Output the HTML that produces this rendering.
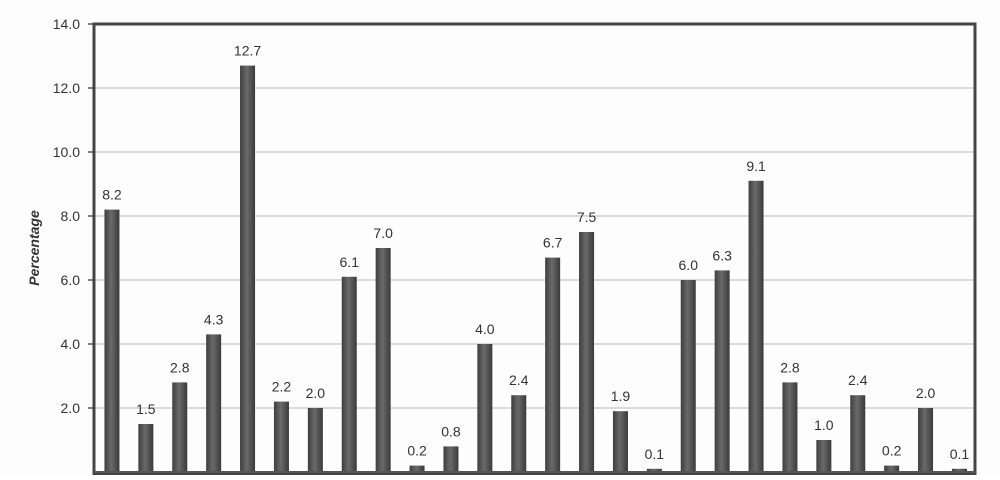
<!DOCTYPE html>
<html><head><style>
html,body{margin:0;padding:0;background:#fff;}
</style></head><body>
<svg width="1000" height="475" xmlns="http://www.w3.org/2000/svg" font-family="Liberation Sans, sans-serif">
<defs>
<linearGradient id="g" x1="0" x2="1" y1="0" y2="0">
<stop offset="0" stop-color="#3e3e3e"/><stop offset="0.45" stop-color="#6a6a6a"/><stop offset="1" stop-color="#3a3a3a"/>
</linearGradient>
</defs>
<rect width="1000" height="475" fill="#fdfdfd"/>
<g stroke="#d0d0d0" stroke-width="1.5">
<line x1="95" x2="975" y1="88" y2="88"/>
<line x1="95" x2="975" y1="152" y2="152"/>
<line x1="95" x2="975" y1="216" y2="216"/>
<line x1="95" x2="975" y1="280" y2="280"/>
<line x1="95" x2="975" y1="344" y2="344"/>
<line x1="95" x2="975" y1="408" y2="408"/>
</g>
<g font-size="14" fill="#333" text-anchor="end">
<text x="80" y="29">14.0</text><text x="80" y="93">12.0</text><text x="80" y="157">10.0</text>
<text x="80" y="221">8.0</text><text x="80" y="285">6.0</text><text x="80" y="349">4.0</text><text x="80" y="413">2.0</text>
</g>
<g stroke="#555" stroke-width="1.5">
<line x1="88" x2="94" y1="24" y2="24"/><line x1="88" x2="94" y1="88" y2="88"/><line x1="88" x2="94" y1="152" y2="152"/>
<line x1="88" x2="94" y1="216" y2="216"/><line x1="88" x2="94" y1="280" y2="280"/><line x1="88" x2="94" y1="344" y2="344"/><line x1="88" x2="94" y1="408" y2="408"/>
</g>
<text transform="translate(39,248) rotate(-90)" font-size="14" font-weight="bold" font-style="italic" fill="#333" text-anchor="middle">Percentage</text>
<g fill="url(#g)">
<rect x="104.45" y="209.6" width="15" height="262.4"/>
<rect x="138.35" y="424" width="15" height="48"/>
<rect x="172.25" y="382.4" width="15" height="89.6"/>
<rect x="206.15" y="334.4" width="15" height="137.6"/>
<rect x="240.05" y="65.6" width="15" height="406.4"/>
<rect x="273.95" y="401.6" width="15" height="70.4"/>
<rect x="307.85" y="408" width="15" height="64"/>
<rect x="341.75" y="276.8" width="15" height="195.2"/>
<rect x="375.65" y="248" width="15" height="224"/>
<rect x="409.55" y="465.6" width="15" height="6.4"/>
<rect x="443.45" y="446.4" width="15" height="25.6"/>
<rect x="477.35" y="344" width="15" height="128"/>
<rect x="511.25" y="395.2" width="15" height="76.8"/>
<rect x="545.15" y="257.6" width="15" height="214.4"/>
<rect x="579.05" y="232" width="15" height="240"/>
<rect x="612.95" y="411.2" width="15" height="60.8"/>
<rect x="646.85" y="468.8" width="15" height="3.2"/>
<rect x="680.75" y="280" width="15" height="192"/>
<rect x="714.65" y="270.4" width="15" height="201.6"/>
<rect x="748.55" y="180.8" width="15" height="291.2"/>
<rect x="782.45" y="382.4" width="15" height="89.6"/>
<rect x="816.35" y="440" width="15" height="32"/>
<rect x="850.25" y="395.2" width="15" height="76.8"/>
<rect x="884.15" y="465.6" width="15" height="6.4"/>
<rect x="918.05" y="408" width="15" height="64"/>
<rect x="951.95" y="468.8" width="15" height="3.2"/>
</g>
<g font-size="14" fill="#333" text-anchor="middle">
<text x="111.95" y="199.6">8.2</text>
<text x="145.85" y="414">1.5</text>
<text x="179.75" y="372.4">2.8</text>
<text x="213.65" y="324.4">4.3</text>
<text x="247.55" y="55.6">12.7</text>
<text x="281.45" y="391.6">2.2</text>
<text x="315.35" y="398">2.0</text>
<text x="349.25" y="266.8">6.1</text>
<text x="383.15" y="238">7.0</text>
<text x="417.05" y="455.6">0.2</text>
<text x="450.95" y="436.4">0.8</text>
<text x="484.85" y="334">4.0</text>
<text x="518.75" y="385.2">2.4</text>
<text x="552.65" y="247.6">6.7</text>
<text x="586.55" y="222">7.5</text>
<text x="620.45" y="401.2">1.9</text>
<text x="654.35" y="458.8">0.1</text>
<text x="688.25" y="270">6.0</text>
<text x="722.15" y="260.4">6.3</text>
<text x="756.05" y="170.8">9.1</text>
<text x="789.95" y="372.4">2.8</text>
<text x="823.85" y="430">1.0</text>
<text x="857.75" y="385.2">2.4</text>
<text x="891.65" y="455.6">0.2</text>
<text x="925.55" y="398">2.0</text>
<text x="959.45" y="458.8">0.1</text>
</g>
<rect x="94" y="24" width="881" height="450" fill="none" stroke="#444" stroke-width="3"/>
<line x1="94" x2="975" y1="472" y2="472" stroke="#555" stroke-width="2"/>
</svg>
</body></html>
